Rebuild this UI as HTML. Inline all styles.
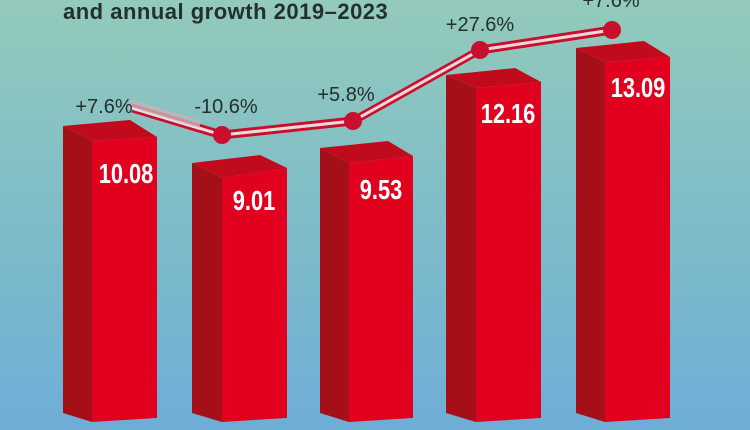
<!DOCTYPE html>
<html><head><style>
html,body{margin:0;padding:0}
body{width:750px;height:430px;overflow:hidden;background:linear-gradient(#93cabb,#7fbcc8 50%,#6eaed6);position:relative;font-family:"Liberation Sans",sans-serif}
.t{position:absolute;left:63px;top:-1px;font-size:22px;font-weight:bold;color:#23302e;letter-spacing:0.5px}
</style></head><body>
<div class="t">and annual growth 2019–2023</div>
<svg width="750" height="430" style="position:absolute;left:0;top:0">
<g>
<polygon points="63,126 92,141 92,422 63,413" fill="#a50f18"/>
<polygon points="92,141 157,137 157,418 92,422" fill="#e2001f"/>
<polygon points="63,126 130,120 157,137 92,141" fill="#c10a1c"/>
</g>
<g>
<polygon points="192,163 222,178 222,422 192,413" fill="#a50f18"/>
<polygon points="222,178 287,168 287,418 222,422" fill="#e2001f"/>
<polygon points="192,163 260,155 287,168 222,178" fill="#c10a1c"/>
</g>
<g>
<polygon points="320,148 349,163 349,422 320,413" fill="#a50f18"/>
<polygon points="349,163 413,156 413,418 349,422" fill="#e2001f"/>
<polygon points="320,148 388,141 413,156 349,163" fill="#c10a1c"/>
</g>
<g>
<polygon points="446,75 476,88 476,422 446,413" fill="#a50f18"/>
<polygon points="476,88 541,82 541,418 476,422" fill="#e2001f"/>
<polygon points="446,75 515,68 541,82 476,88" fill="#c10a1c"/>
</g>
<g>
<polygon points="576,48 605,62 605,422 576,413" fill="#a50f18"/>
<polygon points="605,62 670,57 670,418 605,422" fill="#e2001f"/>
<polygon points="576,48 644,41 670,57 605,62" fill="#c10a1c"/>
</g>
<polyline points="132,105 222,132 353,118 480,47 612,27" fill="none" stroke="#c8102e" stroke-width="3"/>
<polyline points="132,111 222,138 353,124 480,53 612,33" fill="none" stroke="#c8102e" stroke-width="3"/>
<polyline points="132,108 222,135 353,121 480,50 612,30" fill="none" stroke="#f0d6d8" stroke-width="3"/>
<line x1="130" y1="104" x2="200" y2="125" stroke="#c7b3b8" stroke-width="9" opacity="0.8"/>
<line x1="130" y1="108" x2="200" y2="129" stroke="#e5dfe2" stroke-width="2"/>
<circle cx="222" cy="135" r="9" fill="#c8102e"/>
<circle cx="353" cy="121" r="9" fill="#c8102e"/>
<circle cx="480" cy="50" r="9" fill="#c8102e"/>
<circle cx="612" cy="30" r="9" fill="#c8102e"/>
<g font-family="Liberation Sans, sans-serif" font-size="20" fill="#22302e" text-anchor="middle">
<text x="104" y="113">+7.6%</text>
<text x="226" y="113">-10.6%</text>
<text x="346" y="101">+5.8%</text>
<text x="480" y="31">+27.6%</text>
<text x="611" y="7">+7.6%</text>
</g>
<g font-family="Liberation Sans, sans-serif" font-weight="bold" font-size="28" fill="#fff" text-anchor="middle">
<text transform="translate(126,183) scale(0.78,1)">10.08</text>
<text transform="translate(254,210) scale(0.78,1)">9.01</text>
<text transform="translate(381,199) scale(0.78,1)">9.53</text>
<text transform="translate(508,123) scale(0.78,1)">12.16</text>
<text transform="translate(638,97) scale(0.78,1)">13.09</text>
</g>
</svg>
</body></html>
